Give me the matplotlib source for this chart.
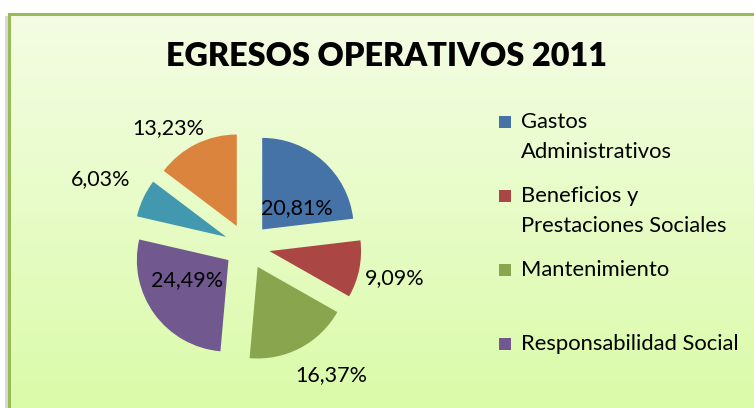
import numpy as np
import matplotlib
matplotlib.use('Agg')
import matplotlib.pyplot as plt
from matplotlib.patches import Rectangle

plt.rcParams['font.family'] = ['Lato', 'DejaVu Sans']

# --- data ---
categorias = ['Gastos\nAdministrativos', 'Beneficios y\nPrestaciones Sociales',
              'Mantenimiento', 'Responsabilidad Social',
              'Otros Egresos', 'Otros Gastos']
porcentajes = [20.81, 9.09, 16.37, 24.49, 6.03, 13.23]
etiquetas = ['20,81%', '9,09%', '16,37%', '24,49%', '6,03%', '13,23%']
colores = ['#4572A7', '#AA4643', '#89A54E', '#71588F', '#4198AF', '#DB843D']

W, H = 754, 408
fig = plt.figure(figsize=(W / 100, H / 100), dpi=100, facecolor='white')

# background: chart area with soft green gradient and border
bg = fig.add_axes([0, 0, 1, 1])
bg.set_xlim(0, W)
bg.set_ylim(H, 0)
bg.axis('off')
grad = np.linspace(0, 1, 256).reshape(-1, 1)
top = np.array([244, 253, 228]) / 255
bot = np.array([218, 251, 168]) / 255
img = top + (bot - top) * grad[..., None]
bg.imshow(img, extent=(9, W + 5, H + 5, 14), aspect='auto', zorder=0)
bg.add_patch(Rectangle((5, 16), 3, H, color='#d8d8d8', zorder=1, lw=0))
bg.plot([9, 9], [H + 5, 14], color='#9bbb59', lw=2.2, zorder=2)
bg.plot([9, W + 5], [14, 14], color='#9bbb59', lw=2.2, zorder=2)

# pie axes: centre at (247, 246.6) px, radius 91.6 px
cx, cy, r = 247, 246.6, 91.6
lim = 1.6
side = 2 * lim * r
ax = fig.add_axes([(cx - side / 2) / W, (H - cy - side / 2) / H, side / W, side / H])
ax.pie(porcentajes, colors=colores, startangle=90, counterclock=False,
       explode=[0.25] * len(porcentajes), radius=1.0,
       wedgeprops=dict(linewidth=0))
ax.set_xlim(-lim, lim)
ax.set_ylim(-lim, lim)
ax.set_aspect('equal')

# data labels (radius from centre, angular tweak from slice bisector)
lab_r = [0.685, 1.652, 1.679, 0.753, 1.762, 1.556]
lab_dt = [-10.9, -0.8, 5.6, -7.1, 0.5, 7.1]
tot = sum(porcentajes)
start = 90.0
for i, p in enumerate(porcentajes):
    span = p / tot * 360
    mid = start - span / 2
    start -= span
    a = np.deg2rad(mid + lab_dt[i])
    ax.text(lab_r[i] * np.cos(a), lab_r[i] * np.sin(a), etiquetas[i],
            ha='center', va='center', fontsize=15.5, color='black')

# title
fig.text(386 / W, (H - 57) / H, 'EGRESOS OPERATIVOS 2011', ha='center', va='center',
         fontsize=23.3, fontweight='heavy', color='black')

# legend (only the first four entries fit in the box)
leg_y = [122, 195.5, 270, 344]
for i in range(4):
    y = leg_y[i]
    bg.add_patch(Rectangle((499, y - 6), 12, 12, color=colores[i], lw=0, zorder=3))
    for j, line in enumerate(categorias[i].split('\n')):
        bg.text(521, y + j * 30.5, line, ha='left', va='center',
                fontsize=15.8, color='black', zorder=3)

fig.savefig('out.png', dpi=100, facecolor='white')
